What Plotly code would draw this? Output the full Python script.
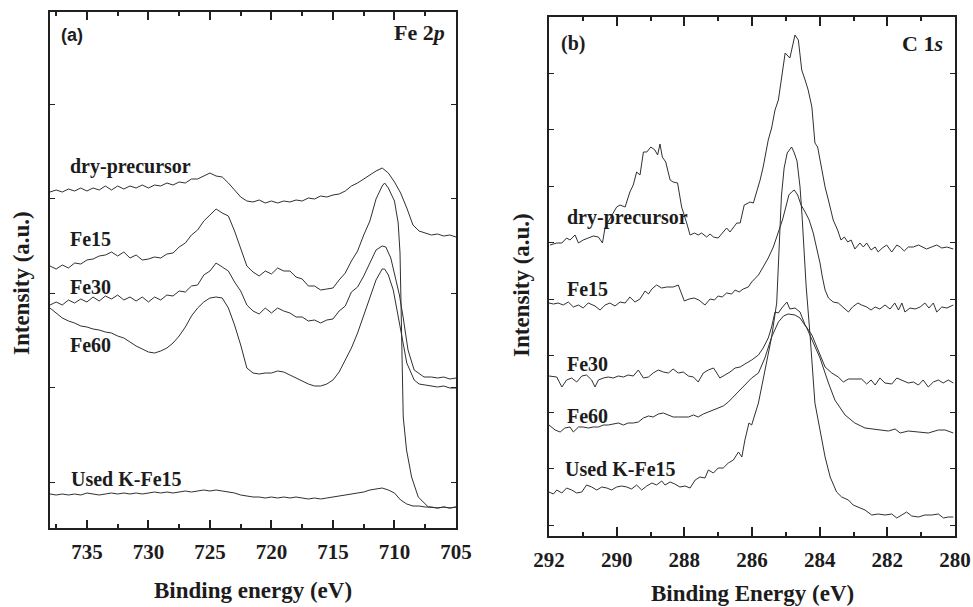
import plotly.graph_objects as go

# ---------------- (a) Fe 2p region ----------------
# binding-energy sampling of the Fe 2p scans (eV), 0.5 eV steps
be_fe = [738 - 0.5 * i for i in range(67)]
be_fe_head = be_fe[:55]          # 738 ... 711 eV

fe_dry = [336, 338, 336, 339, 337, 340, 337, 340, 338, 342, 338, 342, 339, 342, 340, 343, 340, 343,
          342, 345, 343, 346, 345, 349, 349, 352, 355, 352, 351, 345, 338, 331, 327, 326, 328, 325,
          327, 325, 327, 326, 328, 327, 330, 329, 332, 331, 333, 334, 337, 342, 345, 349, 353, 357,
          360, 355, 346, 335, 320, 303, 297, 295, 293, 294, 292, 293, 291]

fe15_be = be_fe_head + [710.8, 710.5, 710.0, 709.7, 709.55, 709.45, 709.35, 709.29, 709.02,
                        708.61, 708.07, 707.25, 706.5, 706.0, 705.5, 705.0]
fe15 = [262, 259, 263, 260, 265, 264, 268, 269, 272, 273, 276, 272, 276, 270, 273, 268, 269, 271,
        270, 274, 275, 281, 285, 293, 298, 307, 313, 319, 315, 312, 297, 279, 262, 256, 252, 257,
        254, 260, 257, 257, 251, 249, 242, 242, 238, 239, 240, 248, 255, 267, 277, 293, 307, 329,
        342,
        345, 340, 327, 305, 275, 200, 140, 111, 78, 51, 31, 21, 20, 21, 20, 21]

fe30_be = be_fe_head + [710.7, 710.3, 710.0, 709.6, 709.3, 708.9, 708.4, 707.6, 707.0,
                        706.5, 706.0, 705.5, 705.0]
fe30 = [223, 226, 223, 228, 225, 229, 226, 231, 227, 232, 229, 233, 228, 231, 227, 231, 226, 231,
        228, 233, 232, 237, 236, 242, 243, 253, 257, 265, 261, 257, 246, 237, 223, 217, 214, 220,
        215, 220, 217, 215, 211, 211, 207, 208, 205, 208, 209, 217, 222, 236, 241, 252, 265, 278,
        282,
        281, 270, 255, 233, 211, 178, 158, 151, 151, 150, 151, 149, 150]

fe60_be = be_fe_head + [710.8, 710.5, 710.1, 709.6, 709.0, 708.4, 708.0, 707.5, 707.0,
                        706.5, 706.0, 705.5, 705.0]
fe60 = [220, 215, 210, 207, 205, 202, 201, 199, 198, 196, 195, 192, 190, 186, 182, 179, 176, 175,
        177, 180, 185, 192, 201, 212, 220, 226, 230, 231, 230, 220, 203, 183, 160, 155, 154, 155,
        155, 157, 156, 153, 150, 147, 144, 142, 142, 144, 148, 156, 168, 180, 195, 213, 232, 248,
        259,
        259, 253, 238, 205, 165, 148, 144, 143, 142, 141, 142, 140, 140]

fe_used = [34, 33, 34, 33, 34, 33, 35, 34, 33, 34, 35, 34, 35, 34, 35, 34, 35, 36, 35, 36,
           35, 36, 37, 36, 37, 38, 37, 38, 37, 36, 35, 33, 32, 31, 31, 30, 31, 30, 31, 30,
           31, 30, 29, 30, 29, 30, 31, 32, 33, 34, 35, 36, 38, 39, 40, 38, 35, 28, 24, 22,
           22, 21, 21, 20, 21, 20, 21]

# ---------------- (b) C 1s region ----------------
c_dry_be = [291.97, 291.77, 291.62, 291.48, 291.38, 291.23, 291.13, 290.99, 290.84, 290.69, 290.54,
            290.42, 290.34, 290.00, 289.90, 289.75, 289.61, 289.51, 289.41, 289.31, 289.21, 289.11,
            288.99, 288.87, 288.79, 288.72, 288.65, 288.55, 288.42, 288.33, 288.20, 288.08, 287.93,
            287.83, 287.70, 287.59, 287.49, 287.34, 287.24, 287.14, 287.00, 286.85, 286.75, 286.65,
            286.55, 286.45, 286.35, 286.23, 286.11, 286.06, 285.96, 285.86, 285.76, 285.67, 285.52,
            285.42, 285.32, 285.22, 285.14, 285.02, 284.88, 284.81, 284.73, 284.63, 284.53, 284.43,
            284.34, 284.23, 284.14, 284.06, 283.96, 283.84, 283.72, 283.60, 283.47, 283.37, 283.27,
            283.17, 283.07, 282.96, 282.81, 282.71, 282.61, 282.48, 282.36, 282.27, 282.15, 282.02,
            281.87, 281.72, 281.62, 281.50, 281.38, 281.23, 281.08, 280.94, 280.84, 280.69, 280.54,
            280.39, 280.24, 280.05]
c_dry = [291, 293, 293, 298, 296, 301, 293, 296, 298, 300, 299, 293, 309, 329, 331, 329, 344, 351,
         364, 361, 384, 384, 389, 386, 381, 392, 379, 374, 356, 354, 353, 329, 313, 301, 303, 301,
         303, 299, 302, 299, 298, 304, 308, 304, 309, 313, 313, 331, 333, 334, 333, 344, 356, 369,
         396, 408, 426, 436, 454, 483, 478, 489, 501, 496, 466, 456, 446, 429, 393, 389, 369, 349,
         333, 316, 306, 296, 299, 294, 296, 287, 293, 289, 293, 286, 289, 284, 288, 291, 284, 291,
         289, 285, 289, 289, 291, 289, 287, 289, 291, 288, 289, 287]

c_fe15_be = [292.00, 291.87, 291.73, 291.58, 291.43, 291.28, 291.13, 290.99, 290.84, 290.64, 290.49,
             290.34, 290.20, 290.05, 289.90, 289.75, 289.61, 289.46, 289.31, 289.16, 289.06, 288.96,
             288.82, 288.67, 288.52, 288.33, 288.18, 288.00, 287.86, 287.71, 287.57, 287.39, 287.24,
             287.11, 287.00, 286.88, 286.75, 286.60, 286.50, 286.38, 286.26, 286.11, 286.01, 285.81,
             285.67, 285.52, 285.37, 285.22, 285.10, 285.00, 284.91, 284.83, 284.75, 284.65, 284.55,
             284.43, 284.31, 284.19, 284.09, 283.99, 283.92, 283.84, 283.74, 283.60, 283.45, 283.30,
             283.15, 283.03, 282.87, 282.76, 282.61, 282.48, 282.36, 282.22, 282.07, 281.92, 281.78,
             281.67, 281.57, 281.48, 281.33, 281.18, 281.03, 280.89, 280.77, 280.64, 280.54, 280.39,
             280.24, 280.05]
c_fe15 = [233, 232, 233, 231, 234, 229, 231, 228, 233, 230, 226, 231, 233, 230, 234, 233, 239, 234,
          237, 245, 242, 247, 251, 248, 249, 249, 251, 235, 237, 238, 236, 231, 237, 236, 240, 239,
          243, 242, 246, 244, 247, 249, 254, 261, 269, 278, 289, 303, 316, 329, 341, 344, 346, 341,
          331, 324, 316, 303, 289, 273, 259, 246, 238, 234, 233, 228, 224, 229, 233, 231, 229, 226,
          229, 227, 231, 227, 233, 226, 233, 224, 228, 227, 229, 233, 228, 233, 224, 229, 228, 231]

c_fe30_be = [292.00, 291.77, 291.62, 291.48, 291.33, 291.18, 291.03, 290.89, 290.74, 290.64, 290.54,
             290.39, 290.25, 290.10, 289.95, 289.80, 289.66, 289.51, 289.36, 289.21, 289.06, 288.92,
             288.77, 288.62, 288.47, 288.33, 288.18, 288.03, 287.88, 287.73, 287.59, 287.44, 287.29,
             287.14, 287.04, 286.95, 286.80, 286.65, 286.50, 286.35, 286.21, 286.01, 285.81, 285.67,
             285.52, 285.42, 285.32, 285.22, 285.12, 284.97, 284.88, 284.73, 284.58, 284.43, 284.23,
             284.04, 283.84, 283.64, 283.45, 283.30, 283.15, 282.96, 282.76, 282.61, 282.48, 282.36,
             282.22, 282.07, 281.87, 281.72, 281.57, 281.38, 281.23, 281.08, 280.94, 280.79, 280.64,
             280.49, 280.35, 280.20, 280.05]
c_fe30 = [160, 159, 149, 156, 158, 154, 160, 161, 156, 149, 156, 158, 159, 158, 160, 159, 161, 160,
          166, 158, 159, 163, 166, 164, 163, 167, 163, 164, 160, 159, 154, 163, 166, 168, 163, 158,
          161, 164, 168, 169, 172, 176, 181, 188, 198, 209, 224, 223, 228, 234, 227, 228, 224, 211,
          201, 186, 169, 163, 159, 154, 157, 157, 157, 152, 156, 151, 158, 153, 152, 158, 156, 153,
          154, 151, 156, 149, 154, 156, 153, 156, 153]

c_fe60_be = [292.00, 291.82, 291.67, 291.53, 291.38, 291.28, 291.13, 290.99, 290.84, 290.69, 290.54,
             290.39, 290.25, 290.10, 289.95, 289.80, 289.66, 289.51, 289.36, 289.21, 289.06, 288.92,
             288.77, 288.62, 288.47, 288.33, 288.18, 288.03, 287.88, 287.73, 287.59, 287.44, 287.29,
             287.14, 287.00, 286.85, 286.70, 286.55, 286.40, 286.26, 286.01, 285.81, 285.62, 285.42,
             285.22, 285.07, 284.93, 284.73, 284.58, 284.38, 284.19, 283.99, 283.74, 283.55, 283.25,
             282.96, 282.66, 282.27, 281.97, 281.77, 281.62, 281.38, 281.08, 280.79, 280.49, 280.29,
             280.05]
c_fe60 = [111, 106, 104, 108, 109, 104, 109, 109, 108, 109, 109, 111, 111, 112, 113, 111, 113, 113,
          114, 118, 120, 119, 122, 123, 121, 119, 119, 119, 119, 121, 119, 122, 124, 126, 128, 130,
          134, 139, 144, 149, 158, 163, 178, 199, 214, 220, 222, 221, 218, 208, 194, 178, 153, 136,
          121, 113, 108, 106, 105, 107, 103, 105, 104, 103, 106, 106, 103]

c_used_be = [292.00, 291.87, 291.77, 291.62, 291.48, 291.33, 291.18, 291.03, 290.89, 290.74, 290.59,
             290.44, 290.29, 290.15, 290.00, 289.85, 289.70, 289.56, 289.41, 289.26, 289.11, 288.96,
             288.82, 288.67, 288.57, 288.42, 288.28, 288.13, 287.98, 287.83, 287.68, 287.54, 287.39,
             287.29, 287.14, 287.00, 286.85, 286.70, 286.55, 286.40, 286.30, 286.21, 286.09, 286.01,
             285.81, 285.62, 285.42, 285.27, 285.20, 285.13, 285.05, 284.96, 284.83, 284.76, 284.67,
             284.58, 284.52, 284.46, 284.40, 284.28, 284.14, 283.99, 283.84, 283.69, 283.50, 283.35,
             283.15, 283.01, 282.86, 282.66, 282.46, 282.27, 282.07, 281.87, 281.72, 281.57, 281.43,
             281.28, 281.08, 280.89, 280.69, 280.49, 280.34, 280.20, 280.05]
c_used = [44, 42, 46, 43, 48, 46, 43, 44, 51, 49, 46, 49, 48, 46, 49, 50, 49, 47, 51, 46, 50, 53,
          51, 55, 51, 54, 52, 49, 50, 48, 56, 59, 58, 66, 63, 68, 68, 73, 76, 84, 79, 96, 113, 111,
          133, 166, 199, 233, 283, 340, 368, 383, 389, 384, 375, 349, 320, 285, 250, 199, 133, 106,
          79, 59, 44, 39, 36, 31, 29, 26, 21, 22, 21, 22, 18, 21, 24, 20, 19, 21, 21, 22, 18, 19, 19]

series_a = [("dry-precursor", be_fe, fe_dry), ("Fe15", fe15_be, fe15), ("Fe30", fe30_be, fe30),
            ("Fe60", fe60_be, fe60), ("Used K-Fe15", be_fe, fe_used)]
series_b = [("dry-precursor", c_dry_be, c_dry), ("Fe15", c_fe15_be, c_fe15),
            ("Fe30", c_fe30_be, c_fe30), ("Fe60", c_fe60_be, c_fe60),
            ("Used K-Fe15", c_used_be, c_used)]

LINE = "#303030"
INK = "#1c1c1c"
SERIF = "'Times New Roman', 'Liberation Serif', Times, serif"

fig = go.Figure()
for name, x, y in series_a:
    fig.add_trace(go.Scatter(x=x, y=y, mode="lines", name=name, xaxis="x", yaxis="y",
                             line=dict(color=LINE, width=1), showlegend=False))
for name, x, y in series_b:
    fig.add_trace(go.Scatter(x=x, y=y, mode="lines", name=name, xaxis="x2", yaxis="y2",
                             line=dict(color=LINE, width=1), showlegend=False))

W, H = 973, 607


def px_x(v):
    return v / W


def px_y(v):
    return 1 - v / H


axis_common = dict(showline=True, linecolor="#202020", linewidth=2, mirror="ticks",
                   ticks="inside", tickcolor="#202020", showgrid=False, zeroline=False,
                   automargin=False)
xtickfont = dict(family=SERIF, size=21, color=INK, weight="bold")

fig.update_layout(
    width=W, height=H, margin=dict(l=0, r=0, t=0, b=0, autoexpand=False),
    paper_bgcolor="white", plot_bgcolor="white",
    xaxis=dict(domain=[px_x(50), px_x(456)], range=[738, 705], anchor="y",
               tickmode="linear", tick0=705, dtick=5, ticklen=8, tickwidth=1.5,
               minor=dict(dtick=2.5, tick0=705, ticklen=4, ticks="inside", tickwidth=1.5,
                          tickcolor="#202020"),
               tickfont=xtickfont, ticklabelstandoff=4, **axis_common),
    yaxis=dict(domain=[px_y(528), px_y(12)], range=[0, 516], anchor="x",
               tickmode="linear", tick0=46, dtick=94.5, ticklen=5, tickwidth=1.2,
               showticklabels=False, **axis_common),
    xaxis2=dict(domain=[px_x(549), px_x(955)], range=[292, 280], anchor="y2",
                tickmode="linear", tick0=280, dtick=2, ticklen=9, tickwidth=1.5,
                minor=dict(dtick=1, tick0=280, ticklen=4, ticks="inside", tickwidth=1.5,
                           tickcolor="#202020"),
                tickfont=xtickfont, ticklabelstandoff=4, **axis_common),
    yaxis2=dict(domain=[px_y(536), px_y(17)], range=[0, 519], anchor="x2",
                tickmode="linear", tick0=11, dtick=56.5, ticklen=5, tickwidth=1.2,
                showticklabels=False, **axis_common),
)

annotations = []


def label(text, x, y, size=20, family=SERIF, xanchor="left", angle=0):
    annotations.append(dict(text=text, x=px_x(x), y=px_y(y), xref="paper", yref="paper",
                            xanchor=xanchor, yanchor="middle", showarrow=False, textangle=angle,
                            borderpad=0, font=dict(family=family, size=size, color=INK)))


# panel (a) texts
label("<b>(a)</b>", 60, 35, size=18, family="'Liberation Sans', Arial, sans-serif")
label("<b>Fe 2<i>p</i></b>", 446, 33, size=22, xanchor="right")
label("<b>dry-precursor</b>", 69, 166)
label("<b>Fe15</b>", 69, 239)
label("<b>Fe30</b>", 69, 287)
label("<b>Fe60</b>", 69, 345)
label("<b>Used K-Fe15</b>", 70, 479)
label("<b>Binding energy (eV)</b>", 253, 590, size=23, xanchor="center")
label("<b>Intensity (a.u.)</b>", 21, 283, size=23, xanchor="center", angle=-90)

# panel (b) texts
label("<b>(b)</b>", 560, 43, size=20)
label("<b>C 1<i>s</i></b>", 944, 44, size=22, xanchor="right")
label("<b>dry-precursor</b>", 566, 217)
label("<b>Fe15</b>", 566, 289)
label("<b>Fe30</b>", 566, 364)
label("<b>Fe60</b>", 566, 416)
label("<b>Used K-Fe15</b>", 564, 469)
label("<b>Binding Energy (eV)</b>", 752, 593, size=23, xanchor="center")
label("<b>Intensity (a.u.)</b>", 521, 285, size=23, xanchor="center", angle=-90)

fig.update_layout(annotations=annotations)
fig.write_html("out.html")
